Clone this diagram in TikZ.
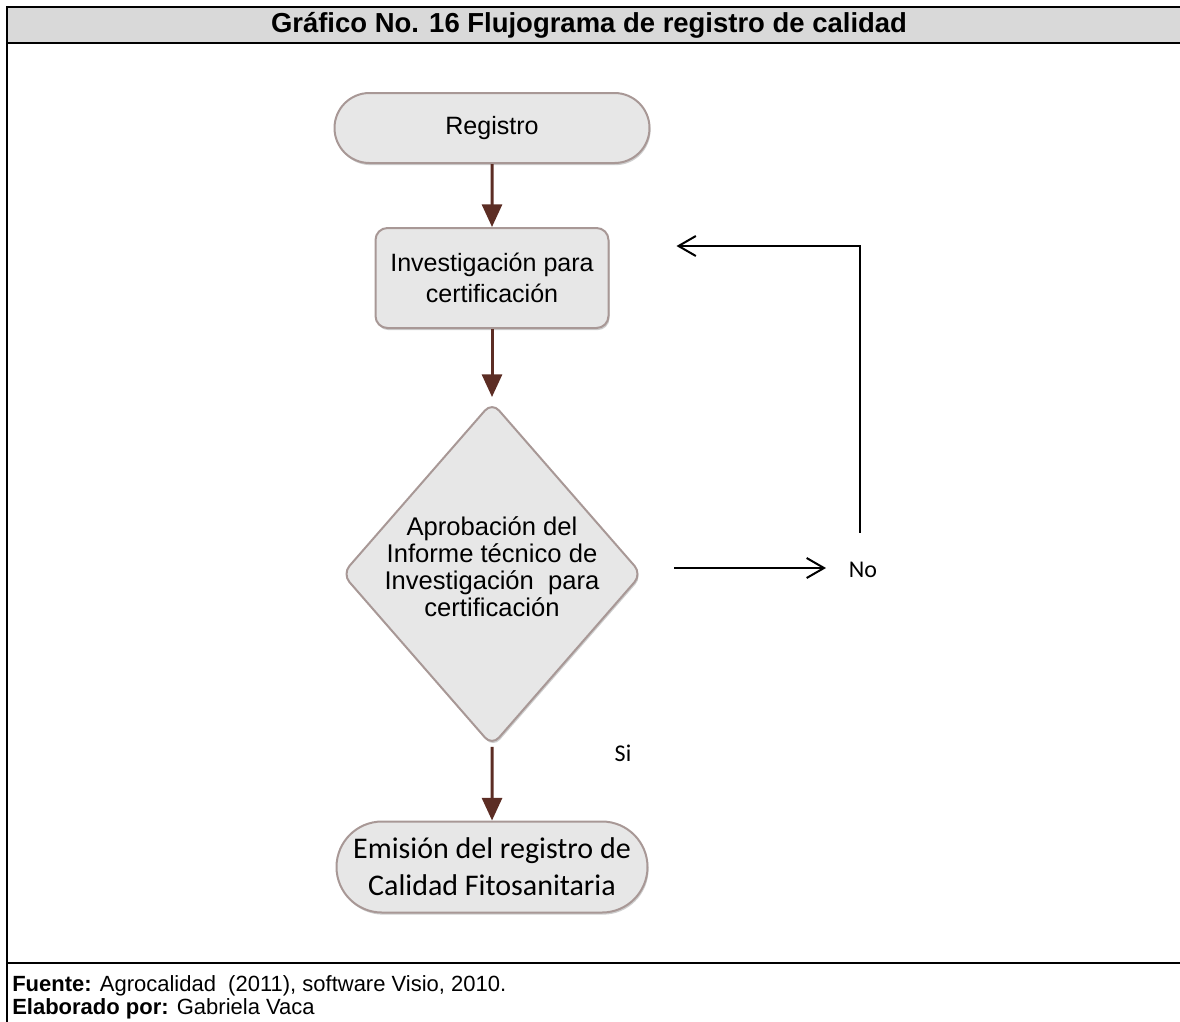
\documentclass[tikz,border=0pt]{standalone}
\usepackage{fontspec}
\setmainfont{Liberation Sans}
\newfontfamily\calibfont{Carlito}
\usetikzlibrary{shapes.geometric,shapes.misc,arrows.meta,calc,shadows}
\definecolor{hdrgray}{RGB}{217,217,217}
\definecolor{boxfill}{RGB}{231,231,231}
\definecolor{boxedge}{RGB}{168,152,150}
\definecolor{flowbrown}{RGB}{92,45,36}
\newcommand\pxu{0.75pt}
\begin{document}
\begin{tikzpicture}[x=0.75pt,y=-0.75pt]
\tikzset{
  frameline/.style={draw=black, line width=1.9pt},
  shapebase/.style={draw=boxedge, line width=1.5pt, fill=boxfill, inner sep=0pt,
    drop shadow={shadow xshift=0.8pt, shadow yshift=-1.6pt, opacity=0.35, fill=black!55}},
  termbox/.style={shapebase, rounded rectangle},
  procbox/.style={shapebase, rectangle, rounded corners=9pt},
  decisbox/.style={shapebase, diamond, rounded corners=8pt},
  bodytext/.style={font=\fontsize{18.8pt}{23pt}\selectfont, align=center},
  flow/.style={draw=flowbrown, line width=2.25pt, -{Triangle[length=17pt,width=15pt]}},
  back/.style={draw=black, line width=1.5pt, -{Straight Barb[length=13pt,width=15pt,line width=1.5pt]}},
  lbl/.style={font=\calibfont\fontsize{18pt}{20pt}\selectfont, inner sep=0pt},
  note/.style={anchor=west, inner sep=0pt, font=\fontsize{16.5pt}{18pt}\selectfont},
}
\useasboundingbox (0,0) rectangle (1180,1021);
\begin{scope}
\clip (0,0) rectangle (1180,1021);
% table frame with grey heading band
\fill[hdrgray] (7,7) rectangle (1190,43);
\draw[frameline] (1190,7) -- (7,7) -- (7,1030);
\draw[frameline] (7,43) -- (1190,43);
\draw[frameline] (7,963) -- (1190,963);
\end{scope}

\node[font=\fontsize{20.6pt}{22pt}\bfseries\selectfont] (title) at (589,25)
  {Gráfico No. 16 Flujograma de registro de calidad};

% flowchart shapes
\node[termbox, minimum width=315*\pxu, minimum height=70*\pxu, bodytext] (reg) at (492,128) {Registro};
\node[procbox, minimum width=233*\pxu, minimum height=100*\pxu, bodytext,
      font=\fontsize{18.8pt}{23.25pt}\selectfont] (inv) at (492,278)
  {Investigación para\\certificación};
\node[decisbox, minimum width=300*\pxu, minimum height=344*\pxu] (dia) at (492,574) {};
\node[bodytext, font=\fontsize{19.2pt}{20.25pt}\selectfont, inner sep=0pt] (diatext) at (492,567)
  {Aprobación del\\Informe técnico de\\Investigación\ \ para\\certificación};
\node[termbox, minimum width=311*\pxu, minimum height=91*\pxu, align=center,
      font=\calibfont\fontsize{22.5pt}{27.75pt}\selectfont] (emi) at (492,867)
  {Emisión del registro de\\Calidad Fitosanitaria};

% labels
\node[lbl] (no) at (863,570) {No};
\node[lbl] (si) at (623,753) {Si};

% main flow
\draw[flow] (reg) -- (inv);
\draw[flow, shorten >=4*\pxu] (inv) -- (dia);
\draw[flow] (dia) -- (emi);

% rejection loop
\coordinate (nostart) at ($(dia.east)+(31,-6)$);
\draw[back, shorten >=17pt] (nostart) -- (nostart -| no.west);
\coordinate (loopstart) at ($(no.north)+(-3,-29)$);
\coordinate (loopend) at ($(inv.east)+(67,-32)$);
\draw[back] (loopstart) |- (loopend);

% source notes
\node[note] (src) at (12,986)
  {\textbf{Fuente:} Agrocalidad\ \ (2011), software Visio, 2010.};
\node[note] (auth) at (12,1009)
  {\textbf{Elaborado por:} Gabriela Vaca};
\end{tikzpicture}
\end{document}
